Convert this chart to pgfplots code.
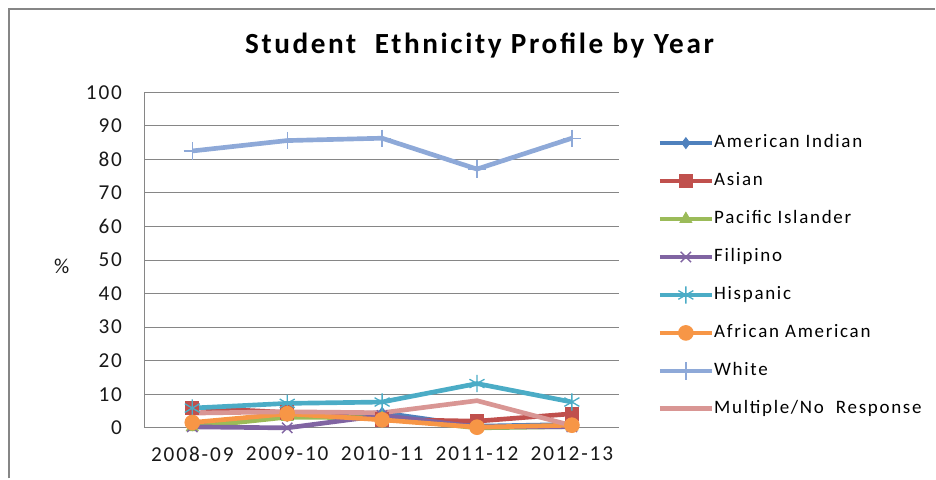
\documentclass[border=0pt]{standalone}
\usepackage{pgfplots}
\pgfplotsset{compat=1.18}
\usepackage{fontspec}
\setmainfont{Carlito}[LetterSpace=9]
\usetikzlibrary{plotmarks}
\definecolor{cAI}{HTML}{4F81BD}
\definecolor{cAS}{HTML}{C0504D}
\definecolor{cPI}{HTML}{9BBB59}
\definecolor{cFI}{HTML}{8064A2}
\definecolor{cHI}{HTML}{4BACC6}
\definecolor{cAA}{HTML}{F79646}
\definecolor{cWH}{HTML}{8EA9D8}
\definecolor{cMU}{HTML}{D99694}
\definecolor{gridc}{HTML}{868686}
\begin{document}
\begin{tikzpicture}
\path (0bp,0bp) rectangle (702bp,359.25bp);
\draw[gridc, line width=1.5bp] (6.75bp,0bp) -- (6.75bp,352.5bp) -- (702bp,352.5bp);
\node[font=\bfseries\fontsize{22}{26}\selectfont] at (360bp,325bp) {Student\ \ Ethnicity Profile by Year};
\begin{axis}[
  at={(108.75bp,38bp)}, anchor=south west,
  scale only axis, width=356.25bp, height=252bp,
  xmin=-0.5, xmax=4.5, ymin=0, ymax=100,
  xtick={0,1,2,3,4},
  xticklabels={2008-09,2009-10,2010-11,2011-12,2012-13},
  ytick={0,10,...,100},
  major tick length=0pt,
  ymajorgrids, grid style={gridc, line width=0.75bp},
  axis line style={gridc, line width=0.75bp},
  axis x line*=bottom, axis y line*=left,
  tick label style={font=\fontsize{16}{19}\selectfont, text=black!90},
  /pgf/number format/assume math mode=true,
  yticklabel style={inner sep=0pt, xshift=-17bp},
  xticklabel style={inner sep=0pt, yshift=-14bp},
  ylabel={\%},
  every axis y label/.style={at={(axis description cs:-0.175,0.48)}, anchor=center, font=\fontsize{16}{19}\selectfont, text=black!90},
  clip=false,
  legend style={at={(axis description cs:1.08,0.875)}, anchor=north west, draw=none, fill=none,
    inner sep=0pt, row sep=15.5bp, font=\fontsize{14.3}{17}\selectfont,
    nodes={inner sep=0pt, text height=10bp, text depth=3bp}},
  legend cell align=left,
  legend image code/.code={\draw[mark repeat=2,mark phase=2,#1] plot coordinates {(0bp,0bp)(19.5bp,0bp)(39bp,0bp)};},
  every axis plot/.append style={line width=3.5bp},
]
\addplot[cAI, mark=diamond*, mark size=4bp, mark options={line width=0.75bp}] coordinates {(0,0.8)(1,3.5)(2,4.5)(3,0.5)(4,1.0)};
\addlegendentry{American Indian}
\addplot[cAS, mark=square*, mark size=5bp, mark options={line width=0.75bp}] coordinates {(0,6.0)(1,4.6)(2,2.5)(3,2.0)(4,4.2)};
\addlegendentry{Asian}
\addplot[cPI, mark=triangle*, mark size=5bp, mark options={line width=0.75bp}] coordinates {(0,0.2)(1,3.2)(2,3.0)(3,0.0)(4,0.4)};
\addlegendentry{Pacific Islander}
\addplot[cFI, mark=x, mark size=5.5bp, mark options={line width=1bp}] coordinates {(0,0.3)(1,0.0)(2,3.7)(3,0.3)(4,0.3)};
\addlegendentry{Filipino}
\addplot[cHI, mark=asterisk, mark size=6.5bp, mark options={line width=1bp}] coordinates {(0,5.9)(1,7.3)(2,7.7)(3,13.2)(4,7.7)};
\addlegendentry{Hispanic}
\addplot[cAA, mark=*, mark size=5.5bp, mark options={line width=0.75bp}] coordinates {(0,1.6)(1,4.2)(2,2.4)(3,0.2)(4,0.8)};
\addlegendentry{African American}
\addplot[cWH, mark=+, mark size=6.5bp, mark options={line width=1bp}] coordinates {(0,82.5)(1,85.6)(2,86.3)(3,77.1)(4,86.3)};
\addlegendentry{White}
\addplot[cMU] coordinates {(0,4.4)(1,4.8)(2,4.5)(3,8.1)(4,0.7)};
\addlegendentry{Multiple/No\ \ Response}
\end{axis}
\end{tikzpicture}
\end{document}
